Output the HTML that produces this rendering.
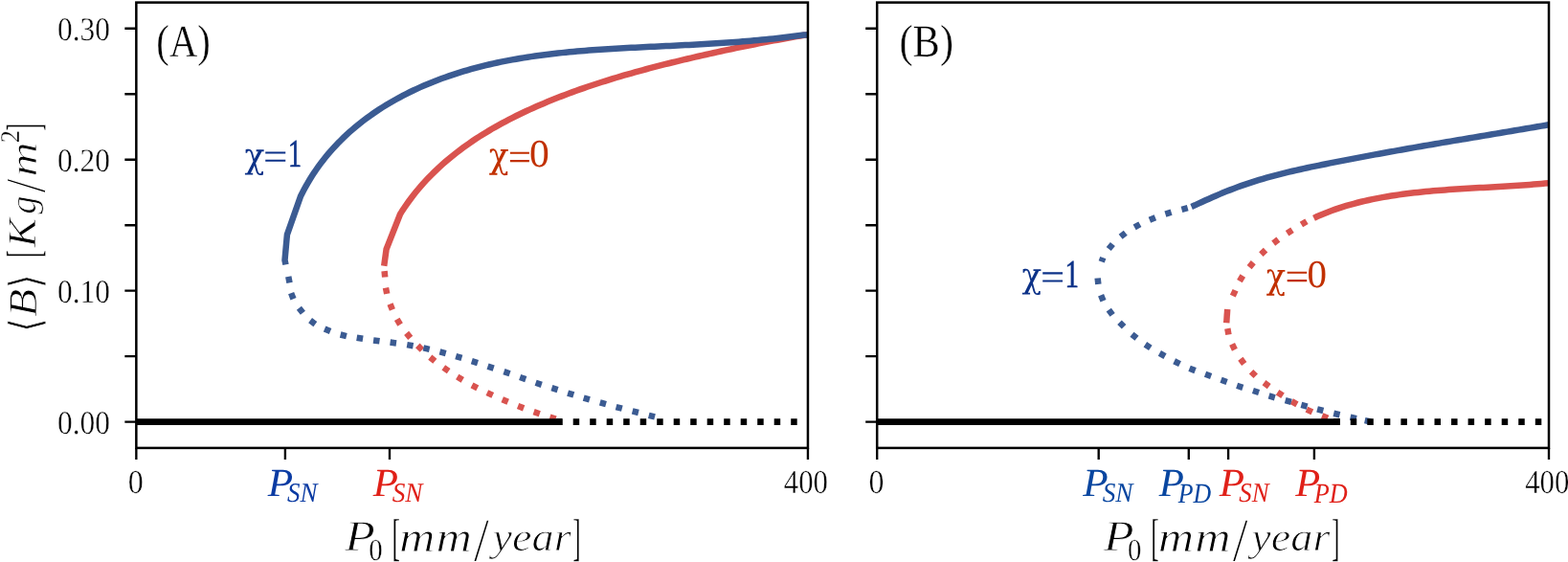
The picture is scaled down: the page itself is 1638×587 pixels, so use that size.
<!DOCTYPE html>
<html lang="en">
<head>
<meta charset="utf-8">
<title>Bifurcation diagrams</title>
<style>
html,body{margin:0;padding:0;background:#ffffff;}
body{width:1638px;height:587px;overflow:hidden;}
svg{display:block;}
text{text-rendering:geometricPrecision;}
</style>
</head>
<body>
<svg width="1638" height="587" viewBox="0 0 1638 587">
<rect width="1638" height="587" fill="#ffffff"/>
<defs><clipPath id="cpA"><rect x="142.35" y="2.60" width="701.60" height="465.30"/></clipPath><clipPath id="cpB"><rect x="916.20" y="2.60" width="701.80" height="465.30"/></clipPath></defs>
<g clip-path="url(#cpA)" fill="none" stroke-linejoin="round">
<path d="M401.59 283.07 L402.21 289.53 M402.97 300.61 L404.23 306.99 M407.51 317.48 L409.89 323.52 M414.72 333.42 L418.08 338.98 M424.64 347.89 L428.76 352.91 M436.29 360.92 L440.91 365.48 M449.29 373.13 L454.31 377.27 M463.33 383.94 L468.67 387.66 M477.72 393.52 L483.28 396.88 M493.02 402.30 L498.78 405.30 M508.85 410.14 L514.75 412.86 M524.71 417.23 L530.69 419.77 M541.07 424.03 L547.13 426.37 M557.62 430.15 L563.78 432.25 M574.41 435.61 L580.59 437.59" stroke="#d9534f" stroke-width="6.50"/>
<path d="M401.20 277.70 L403.60 260.30 L418.00 223.70 L420.07 220.39 L422.34 216.95 L424.67 213.57 L427.05 210.25 L429.48 206.97 L431.95 203.75 L434.48 200.59 L437.05 197.47 L439.67 194.41 L442.34 191.40 L445.05 188.43 L447.80 185.52 L450.60 182.66 L453.44 179.84 L456.31 177.07 L459.23 174.35 L462.19 171.67 L465.19 169.04 L468.22 166.45 L471.29 163.91 L474.39 161.41 L477.53 158.95 L480.70 156.54 L483.91 154.16 L487.15 151.83 L490.41 149.54 L493.71 147.29 L497.04 145.07 L500.39 142.89 L503.77 140.76 L507.18 138.65 L510.61 136.59 L514.07 134.56 L517.54 132.56 L521.05 130.60 L524.57 128.67 L528.11 126.78 L531.68 124.91 L535.26 123.08 L538.86 121.28 L542.48 119.51 L546.11 117.77 L549.76 116.06 L553.42 114.38 L557.10 112.72 L560.78 111.09 L564.48 109.49 L568.19 107.91 L571.91 106.36 L575.64 104.83 L579.37 103.32 L583.12 101.84 L586.87 100.39 L590.63 98.95 L594.40 97.54 L598.18 96.15 L601.96 94.78 L605.75 93.43 L609.55 92.10 L613.36 90.79 L617.17 89.51 L620.99 88.24 L624.81 86.99 L628.65 85.75 L632.48 84.54 L636.32 83.34 L640.17 82.16 L644.02 81.00 L647.88 79.86 L651.75 78.72 L655.61 77.61 L659.48 76.51 L663.36 75.42 L667.24 74.35 L671.12 73.29 L675.01 72.25 L678.90 71.22 L682.79 70.20 L686.69 69.19 L690.59 68.19 L694.49 67.21 L698.39 66.23 L702.30 65.27 L706.21 64.31 L710.12 63.37 L714.03 62.43 L717.94 61.50 L721.85 60.59 L725.76 59.67 L729.68 58.77 L733.59 57.87 L737.51 56.99 L741.43 56.11 L745.35 55.23 L749.27 54.37 L753.19 53.51 L757.11 52.67 L761.04 51.83 L764.96 51.00 L768.89 50.17 L772.82 49.36 L776.74 48.55 L780.67 47.76 L784.61 46.97 L788.54 46.19 L792.47 45.41 L796.41 44.65 L800.35 43.89 L804.29 43.15 L808.23 42.41 L812.17 41.68 L816.12 40.96 L820.06 40.25 L824.01 39.55 L827.96 38.85 L831.91 38.17 L835.86 37.49 L839.82 36.83 L843.90 36.60" stroke="#d9534f" stroke-width="6.50"/>

<path d="M301.27 288.91 L302.53 295.29 M304.12 306.17 L306.48 312.23 M312.40 321.74 L316.40 326.86 M324.09 334.67 L329.31 338.53 M339.11 343.52 L345.09 346.08 M355.65 349.51 L361.95 351.09 M372.69 352.78 L379.11 353.82 M390.08 355.47 L396.52 356.33 M407.58 357.56 L414.02 358.44 M425.20 360.14 L431.60 361.26 M442.33 363.40 L448.67 364.80 M459.46 367.37 L465.74 369.03 M476.18 372.07 L482.42 373.93 M492.80 377.11 L499.00 379.09 M509.51 382.58 L515.69 384.62 M526.43 388.15 L532.57 390.25 M543.13 394.03 L549.27 396.17 M559.62 399.77 L565.78 401.83 M576.40 405.21 L582.60 407.19 M593.10 410.54 L599.30 412.46 M609.68 415.59 L615.92 417.41 M626.77 420.43 L633.03 422.17 M643.56 425.07 L649.84 426.73 M660.65 429.40 L666.95 431.00 M677.75 433.79 L684.05 435.41" stroke="#3b5b92" stroke-width="6.50"/>
<path d="M298.50 276.40 L297.50 271.80 L299.90 245.20 L313.90 205.30 L315.56 202.01 L317.48 198.30 L319.46 194.65 L321.50 191.05 L323.61 187.51 L325.78 184.03 L328.00 180.60 L330.29 177.23 L332.63 173.91 L335.03 170.64 L337.48 167.43 L339.99 164.27 L342.55 161.17 L345.17 158.12 L347.83 155.12 L350.55 152.18 L353.31 149.28 L356.13 146.44 L358.99 143.65 L361.89 140.91 L364.84 138.22 L367.84 135.58 L370.87 132.99 L373.95 130.45 L377.07 127.96 L380.23 125.52 L383.43 123.13 L386.66 120.78 L389.93 118.49 L393.24 116.24 L396.58 114.04 L399.96 111.88 L403.36 109.77 L406.80 107.71 L410.27 105.69 L413.77 103.72 L417.29 101.79 L420.84 99.91 L424.42 98.08 L428.02 96.28 L431.65 94.53 L435.30 92.83 L438.97 91.16 L442.66 89.54 L446.37 87.97 L450.11 86.43 L453.85 84.94 L457.62 83.48 L461.40 82.07 L465.19 80.70 L469.00 79.37 L472.82 78.08 L476.65 76.83 L480.49 75.62 L484.34 74.44 L488.20 73.31 L492.06 72.21 L495.94 71.15 L499.83 70.12 L503.72 69.13 L507.62 68.18 L511.53 67.26 L515.44 66.37 L519.37 65.51 L523.30 64.68 L527.23 63.89 L531.18 63.12 L535.13 62.39 L539.08 61.68 L543.04 61.00 L547.01 60.34 L550.98 59.71 L554.96 59.11 L558.94 58.53 L562.93 57.98 L566.92 57.45 L570.92 56.94 L574.92 56.45 L578.92 55.98 L582.93 55.54 L586.94 55.11 L590.95 54.70 L594.97 54.31 L598.99 53.93 L603.01 53.58 L607.04 53.23 L611.07 52.91 L615.09 52.59 L619.13 52.29 L623.16 52.00 L627.19 51.73 L631.22 51.46 L635.26 51.20 L639.29 50.96 L643.33 50.72 L647.36 50.49 L651.40 50.27 L655.43 50.05 L659.47 49.84 L663.50 49.64 L667.53 49.44 L671.56 49.24 L675.59 49.04 L679.62 48.85 L683.65 48.66 L687.67 48.46 L691.69 48.27 L695.71 48.08 L699.73 47.89 L703.75 47.69 L707.76 47.50 L711.78 47.30 L715.79 47.10 L719.80 46.89 L723.81 46.68 L727.82 46.47 L731.82 46.25 L735.83 46.02 L739.83 45.79 L743.84 45.55 L747.84 45.31 L751.84 45.05 L755.84 44.79 L759.84 44.52 L763.84 44.24 L767.84 43.95 L771.84 43.65 L775.84 43.34 L779.84 43.02 L783.84 42.69 L787.83 42.34 L791.83 41.98 L795.83 41.61 L799.82 41.23 L803.82 40.83 L807.82 40.41 L811.82 39.98 L815.81 39.53 L819.81 39.07 L823.81 38.59 L827.81 38.09 L831.81 37.57 L835.81 37.04 L839.81 36.48 L843.90 36.40" stroke="#3b5b92" stroke-width="6.50"/>
<path d="M142.35 440.65 H587.20" stroke="#000" stroke-width="6.60"/>
<path d="M581.20 440.65 H843.95" stroke="#000" stroke-width="6.60" stroke-dasharray="6.50 11.00"/>
</g>
<g clip-path="url(#cpB)" fill="none" stroke-linejoin="round">
<path d="M1364.97 231.21 L1359.43 234.59 M1350.02 240.22 L1344.58 243.78 M1335.37 250.11 L1330.23 254.09 M1322.05 261.15 L1317.35 265.65 M1309.29 274.12 L1305.11 279.08 M1298.29 288.02 L1294.91 293.58 M1290.57 303.25 L1287.83 309.15 M1282.34 343.10 L1283.46 349.50 M1287.10 359.37 L1289.90 365.23 M1295.86 374.79 L1299.74 380.01 M1307.05 388.25 L1311.75 392.75 M1320.50 399.65 L1325.70 403.55 M1334.59 409.71 L1340.01 413.29 M1349.28 419.19 L1354.92 422.41 M1364.95 427.64 L1370.85 430.36 M1381.09 434.37 L1387.11 436.83" stroke="#d9534f" stroke-width="6.50"/>
<path d="M1372.50 227.80 L1376.12 226.04 L1379.85 224.43 L1383.59 222.88 L1387.35 221.40 L1391.13 219.99 L1394.93 218.63 L1398.74 217.34 L1402.56 216.11 L1406.40 214.94 L1410.26 213.82 L1414.13 212.76 L1418.01 211.74 L1421.90 210.78 L1425.80 209.86 L1429.71 208.98 L1433.64 208.15 L1437.57 207.36 L1441.51 206.61 L1445.46 205.90 L1449.41 205.22 L1453.38 204.57 L1457.35 203.96 L1461.32 203.38 L1465.31 202.83 L1469.29 202.31 L1473.29 201.81 L1477.29 201.34 L1481.29 200.90 L1485.30 200.48 L1489.31 200.09 L1493.33 199.71 L1497.35 199.35 L1501.38 199.01 L1505.40 198.69 L1509.43 198.39 L1513.46 198.10 L1517.50 197.82 L1521.53 197.55 L1525.57 197.29 L1529.60 197.05 L1533.64 196.80 L1537.68 196.57 L1541.72 196.34 L1545.75 196.12 L1549.79 195.89 L1553.82 195.67 L1557.86 195.45 L1561.89 195.22 L1565.92 194.99 L1569.94 194.76 L1573.97 194.52 L1577.99 194.28 L1582.00 194.02 L1586.02 193.76 L1590.03 193.48 L1594.03 193.20 L1598.03 192.89 L1602.03 192.58 L1606.01 192.25 L1610.00 191.89 L1613.97 191.53 L1618.00 191.30" stroke="#d9534f" stroke-width="6.50"/>
<path d="M1282.20 323.00 L1281.20 337.20" stroke="#d9534f" stroke-width="6.50"/>
<path d="M1240.73 217.04 L1234.47 218.76 M1223.60 221.62 L1217.40 223.58 M1206.91 227.28 L1200.89 229.72 M1190.85 234.25 L1185.15 237.35 M1175.76 243.20 L1170.64 247.20 M1162.38 255.00 L1158.22 260.00 M1150.71 273.36 L1152.29 269.04 M1146.66 290.47 L1147.34 296.93 M1150.08 308.29 L1152.52 314.31 M1158.27 323.69 L1162.13 328.91 M1169.51 336.69 L1174.09 341.31 M1182.50 349.23 L1187.50 353.37 M1196.38 359.81 L1201.82 363.39 M1211.37 368.91 L1217.03 372.09 M1226.68 377.27 L1232.52 380.13 M1242.59 384.68 L1248.61 387.12 M1259.05 390.79 L1265.15 393.01 M1275.54 396.80 L1281.66 399.00 M1292.12 402.78 L1298.28 404.82 M1308.90 408.02 L1315.10 409.98 M1325.59 413.47 L1331.81 415.33 M1342.67 418.24 L1348.93 419.96 M1359.36 422.85 L1365.64 424.55 M1376.05 427.38 L1382.35 429.02 M1393.24 431.75 L1399.56 433.25 M1410.63 435.69 L1416.97 437.11 M1425.73 439.09 L1432.07 440.51" stroke="#3b5b92" stroke-width="6.50"/>
<path d="M1244.60 215.90 L1248.27 214.35 L1251.90 212.66 L1255.55 210.98 L1259.20 209.32 L1262.86 207.68 L1266.54 206.05 L1270.22 204.45 L1273.91 202.88 L1277.61 201.34 L1281.33 199.83 L1285.05 198.36 L1288.79 196.92 L1292.54 195.53 L1296.31 194.17 L1300.08 192.86 L1303.87 191.59 L1307.67 190.35 L1311.48 189.15 L1315.31 187.98 L1319.14 186.84 L1322.98 185.74 L1326.83 184.67 L1330.69 183.62 L1334.56 182.61 L1338.43 181.62 L1342.31 180.65 L1346.20 179.70 L1350.09 178.78 L1354.00 177.88 L1357.90 177.00 L1361.81 176.13 L1365.72 175.28 L1369.64 174.44 L1373.56 173.62 L1377.49 172.81 L1381.41 172.00 L1385.34 171.21 L1389.27 170.43 L1393.20 169.65 L1397.13 168.87 L1401.07 168.10 L1405.00 167.34 L1408.93 166.58 L1412.86 165.83 L1416.80 165.08 L1420.73 164.34 L1424.67 163.60 L1428.61 162.87 L1432.54 162.14 L1436.48 161.41 L1440.42 160.69 L1444.36 159.97 L1448.30 159.26 L1452.24 158.55 L1456.18 157.84 L1460.12 157.14 L1464.06 156.44 L1468.00 155.74 L1471.95 155.05 L1475.89 154.36 L1479.83 153.67 L1483.78 152.98 L1487.72 152.30 L1491.67 151.62 L1495.61 150.94 L1499.56 150.27 L1503.50 149.59 L1507.45 148.92 L1511.39 148.25 L1515.34 147.58 L1519.29 146.91 L1523.23 146.25 L1527.18 145.58 L1531.13 144.92 L1535.08 144.25 L1539.03 143.59 L1542.97 142.93 L1546.92 142.27 L1550.87 141.61 L1554.82 140.95 L1558.77 140.29 L1562.72 139.62 L1566.67 138.96 L1570.61 138.30 L1574.56 137.64 L1578.51 136.98 L1582.46 136.32 L1586.41 135.65 L1590.36 134.99 L1594.31 134.32 L1598.26 133.65 L1602.21 132.99 L1606.16 132.32 L1610.10 131.65 L1614.05 130.97 L1618.00 130.30" stroke="#3b5b92" stroke-width="6.50"/>
<path d="M916.20 440.65 H1399.80" stroke="#000" stroke-width="6.60"/>
<path d="M1393.20 440.65 H1618.00" stroke="#000" stroke-width="6.60" stroke-dasharray="6.50 11.05"/>
</g>
<g stroke="#000" stroke-width="2.50" fill="none">
<rect x="142.35" y="2.60" width="701.60" height="465.30"/>
<path d="M130.35 29.75 H142.35 M130.35 98.23 H142.35 M130.35 166.72 H142.35 M130.35 235.20 H142.35 M130.35 303.68 H142.35 M130.35 372.17 H142.35 M130.35 440.65 H142.35 M142.35 467.90 V480.10 M297.90 467.90 V480.10 M407.00 467.90 V480.10 M843.95 467.90 V480.10" stroke-width="2.35"/>
</g>
<g stroke="#000" stroke-width="2.50" fill="none">
<rect x="916.20" y="2.60" width="701.80" height="465.30"/>
<path d="M904.20 29.75 H916.20 M904.20 98.23 H916.20 M904.20 166.72 H916.20 M904.20 235.20 H916.20 M904.20 303.68 H916.20 M904.20 372.17 H916.20 M904.20 440.65 H916.20 M916.20 467.90 V480.10 M1147.70 467.90 V480.10 M1241.80 467.90 V480.10 M1283.10 467.90 V480.10 M1372.90 467.90 V480.10 M1618.00 467.90 V480.10" stroke-width="2.35"/>
</g>
<g font-family="'Liberation Serif', serif">
<text><tspan x="59.95" y="42.17" font-size="34.45" textLength="54.99" lengthAdjust="spacingAndGlyphs" stroke="#fff" stroke-width="0.40">0.30</tspan></text>
<text><tspan x="59.95" y="179.14" font-size="34.45" textLength="54.99" lengthAdjust="spacingAndGlyphs" stroke="#fff" stroke-width="0.40">0.20</tspan></text>
<text><tspan x="59.95" y="316.11" font-size="34.45" textLength="54.99" lengthAdjust="spacingAndGlyphs" stroke="#fff" stroke-width="0.40">0.10</tspan></text>
<text><tspan x="59.95" y="453.07" font-size="34.45" textLength="54.99" lengthAdjust="spacingAndGlyphs" stroke="#fff" stroke-width="0.40">0.00</tspan></text>
<text><tspan x="133.63" y="515.46" font-size="34.97" textLength="16.04" lengthAdjust="spacingAndGlyphs" stroke="#fff" stroke-width="0.40">0</tspan></text>
<text><tspan x="818.85" y="515.46" font-size="34.97" textLength="46.17" lengthAdjust="spacingAndGlyphs" stroke="#fff" stroke-width="0.40">400</tspan></text>
<text><tspan x="907.53" y="515.46" font-size="34.97" textLength="16.04" lengthAdjust="spacingAndGlyphs" stroke="#fff" stroke-width="0.40">0</tspan></text>
<text><tspan x="1593.15" y="515.46" font-size="34.97" textLength="46.17" lengthAdjust="spacingAndGlyphs" stroke="#fff" stroke-width="0.40">400</tspan></text>
<text><tspan x="163.37" y="58.60" font-size="47.42" textLength="56.37" lengthAdjust="spacingAndGlyphs" stroke="#fff" stroke-width="0.40">(A)</tspan></text>
<text><tspan x="939.49" y="58.51" font-size="47.86" textLength="56.53" lengthAdjust="spacingAndGlyphs" stroke="#fff" stroke-width="0.40">(B)</tspan></text>
<text fill="#0d3288"><tspan x="255.48" y="174.76" font-size="36.21" textLength="20.93" lengthAdjust="spacingAndGlyphs" font-family="'DejaVu Serif', serif">χ</tspan><tspan x="275.10" y="176.86" font-size="40.40" textLength="25.45" lengthAdjust="spacingAndGlyphs">=</tspan><tspan x="301.03" y="174.20" font-size="41.05" textLength="14.06" lengthAdjust="spacingAndGlyphs" stroke="#0d3288" stroke-width="0.70">1</tspan></text>
<text fill="#c13000"><tspan x="510.73" y="175.11" font-size="36.87" textLength="20.93" lengthAdjust="spacingAndGlyphs" font-family="'DejaVu Serif', serif">χ</tspan><tspan x="530.81" y="177.78" font-size="42.40" textLength="24.24" lengthAdjust="spacingAndGlyphs">=</tspan><tspan x="553.06" y="174.30" font-size="40.90" textLength="20.82" lengthAdjust="spacingAndGlyphs">0</tspan></text>
<text fill="#0d3288"><tspan x="1067.53" y="300.43" font-size="36.34" textLength="20.67" lengthAdjust="spacingAndGlyphs" font-family="'DejaVu Serif', serif">χ</tspan><tspan x="1087.12" y="302.65" font-size="40.80" textLength="25.21" lengthAdjust="spacingAndGlyphs">=</tspan><tspan x="1112.45" y="299.90" font-size="41.20" textLength="14.49" lengthAdjust="spacingAndGlyphs" stroke="#0d3288" stroke-width="0.70">1</tspan></text>
<text fill="#c13000"><tspan x="1322.84" y="300.71" font-size="36.87" textLength="20.35" lengthAdjust="spacingAndGlyphs" font-family="'DejaVu Serif', serif">χ</tspan><tspan x="1342.46" y="303.38" font-size="42.40" textLength="24.85" lengthAdjust="spacingAndGlyphs">=</tspan><tspan x="1365.49" y="299.90" font-size="40.90" textLength="20.53" lengthAdjust="spacingAndGlyphs">0</tspan></text>
<text fill="#0b3ba3"><tspan x="279.73" y="518.25" font-size="41.53" textLength="26.38" lengthAdjust="spacingAndGlyphs" font-style="italic">P</tspan><tspan x="300.10" y="524.42" font-size="28.58" textLength="31.48" lengthAdjust="spacingAndGlyphs" font-style="italic">SN</tspan></text>
<text fill="#e02018"><tspan x="389.73" y="518.25" font-size="41.53" textLength="26.21" lengthAdjust="spacingAndGlyphs" font-style="italic">P</tspan><tspan x="409.73" y="524.42" font-size="28.58" textLength="31.85" lengthAdjust="spacingAndGlyphs" font-style="italic">SN</tspan></text>
<text fill="#0846a0"><tspan x="1131.38" y="518.25" font-size="41.53" textLength="26.36" lengthAdjust="spacingAndGlyphs" font-style="italic">P</tspan><tspan x="1151.63" y="524.42" font-size="28.58" textLength="31.85" lengthAdjust="spacingAndGlyphs" font-style="italic">SN</tspan></text>
<text fill="#0846a0"><tspan x="1210.88" y="518.25" font-size="41.53" textLength="26.16" lengthAdjust="spacingAndGlyphs" font-style="italic">P</tspan><tspan x="1230.79" y="524.64" font-size="29.24" textLength="34.45" lengthAdjust="spacingAndGlyphs" font-style="italic">PD</tspan></text>
<text fill="#e02018"><tspan x="1273.78" y="518.25" font-size="41.53" textLength="26.26" lengthAdjust="spacingAndGlyphs" font-style="italic">P</tspan><tspan x="1294.24" y="524.42" font-size="28.58" textLength="31.27" lengthAdjust="spacingAndGlyphs" font-style="italic">SN</tspan></text>
<text fill="#e02018"><tspan x="1353.38" y="518.25" font-size="41.53" textLength="25.95" lengthAdjust="spacingAndGlyphs" font-style="italic">P</tspan><tspan x="1372.79" y="524.64" font-size="29.24" textLength="34.96" lengthAdjust="spacingAndGlyphs" font-style="italic">PD</tspan></text>
<text><tspan x="360.28" y="575.35" font-size="45.43" textLength="31.54" lengthAdjust="spacingAndGlyphs" font-style="italic" stroke="#fff" stroke-width="0.80">P</tspan><tspan x="385.30" y="584.79" font-size="31.86" textLength="14.45" lengthAdjust="spacingAndGlyphs" stroke="#fff" stroke-width="0.40">0</tspan><tspan font-size="4"> </tspan><tspan x="409.48" y="579.35" font-size="53.41" textLength="8.38" lengthAdjust="spacingAndGlyphs" stroke="#fff" stroke-width="0.40">[</tspan><tspan x="417.07" y="576.20" font-size="44.36" textLength="76.95" lengthAdjust="spacingAndGlyphs" font-style="italic" letter-spacing="0.85" stroke="#fff" stroke-width="0.90">mm</tspan><tspan x="494.85" y="585.86" font-size="65.18" textLength="16.40" lengthAdjust="spacingAndGlyphs" stroke="#fff" stroke-width="1.20">/</tspan><tspan x="514.60" y="575.42" font-size="42.07" textLength="82.01" lengthAdjust="spacingAndGlyphs" font-style="italic" stroke="#fff" stroke-width="0.90">year</tspan><tspan x="598.57" y="579.35" font-size="53.41" textLength="8.08" lengthAdjust="spacingAndGlyphs" stroke="#fff" stroke-width="0.40">]</tspan></text>
<text><tspan x="1153.03" y="575.35" font-size="45.43" textLength="31.54" lengthAdjust="spacingAndGlyphs" font-style="italic" stroke="#fff" stroke-width="0.80">P</tspan><tspan x="1178.05" y="584.79" font-size="31.86" textLength="14.45" lengthAdjust="spacingAndGlyphs" stroke="#fff" stroke-width="0.40">0</tspan><tspan font-size="4"> </tspan><tspan x="1202.23" y="579.35" font-size="53.41" textLength="8.38" lengthAdjust="spacingAndGlyphs" stroke="#fff" stroke-width="0.40">[</tspan><tspan x="1209.82" y="576.20" font-size="44.36" textLength="76.95" lengthAdjust="spacingAndGlyphs" font-style="italic" letter-spacing="0.85" stroke="#fff" stroke-width="0.90">mm</tspan><tspan x="1287.60" y="585.86" font-size="65.18" textLength="16.40" lengthAdjust="spacingAndGlyphs" stroke="#fff" stroke-width="1.20">/</tspan><tspan x="1307.35" y="575.42" font-size="42.07" textLength="82.01" lengthAdjust="spacingAndGlyphs" font-style="italic" stroke="#fff" stroke-width="0.90">year</tspan><tspan x="1391.32" y="579.35" font-size="53.41" textLength="8.08" lengthAdjust="spacingAndGlyphs" stroke="#fff" stroke-width="0.40">]</tspan></text>
<text transform="rotate(-90)"><tspan x="-346.99" y="41.70" font-size="45.14" textLength="15.03" lengthAdjust="spacingAndGlyphs" font-family="'DejaVu Serif', serif" stroke="#fff" stroke-width="0.90">⟨</tspan><tspan x="-330.90" y="37.53" font-size="41.96" textLength="29.35" lengthAdjust="spacingAndGlyphs" font-style="italic" stroke="#fff" stroke-width="0.80">B</tspan><tspan x="-301.41" y="41.70" font-size="45.14" textLength="15.38" lengthAdjust="spacingAndGlyphs" font-family="'DejaVu Serif', serif" stroke="#fff" stroke-width="0.90">⟩</tspan><tspan font-size="4"> </tspan><tspan x="-268.65" y="41.07" font-size="49.18" textLength="7.18" lengthAdjust="spacingAndGlyphs" stroke="#fff" stroke-width="0.40">[</tspan><tspan x="-258.61" y="37.45" font-size="41.85" textLength="30.59" lengthAdjust="spacingAndGlyphs" font-style="italic" stroke="#fff" stroke-width="0.80">K</tspan><tspan x="-223.67" y="37.47" font-size="38.91" textLength="19.25" lengthAdjust="spacingAndGlyphs" font-style="italic" stroke="#fff" stroke-width="0.80">g</tspan><tspan x="-201.55" y="46.76" font-size="59.95" textLength="15.10" lengthAdjust="spacingAndGlyphs" stroke="#fff" stroke-width="1.20">/</tspan><tspan x="-184.56" y="37.95" font-size="39.90" textLength="36.11" lengthAdjust="spacingAndGlyphs" font-style="italic" stroke="#fff" stroke-width="0.80">m</tspan><tspan x="-149.32" y="19.80" font-size="28.62" textLength="13.35" lengthAdjust="spacingAndGlyphs" stroke="#fff" stroke-width="0.40">2</tspan><tspan x="-136.21" y="41.04" font-size="49.42" textLength="7.03" lengthAdjust="spacingAndGlyphs" stroke="#fff" stroke-width="0.40">]</tspan></text>
</g>
</svg>
</body>
</html>
